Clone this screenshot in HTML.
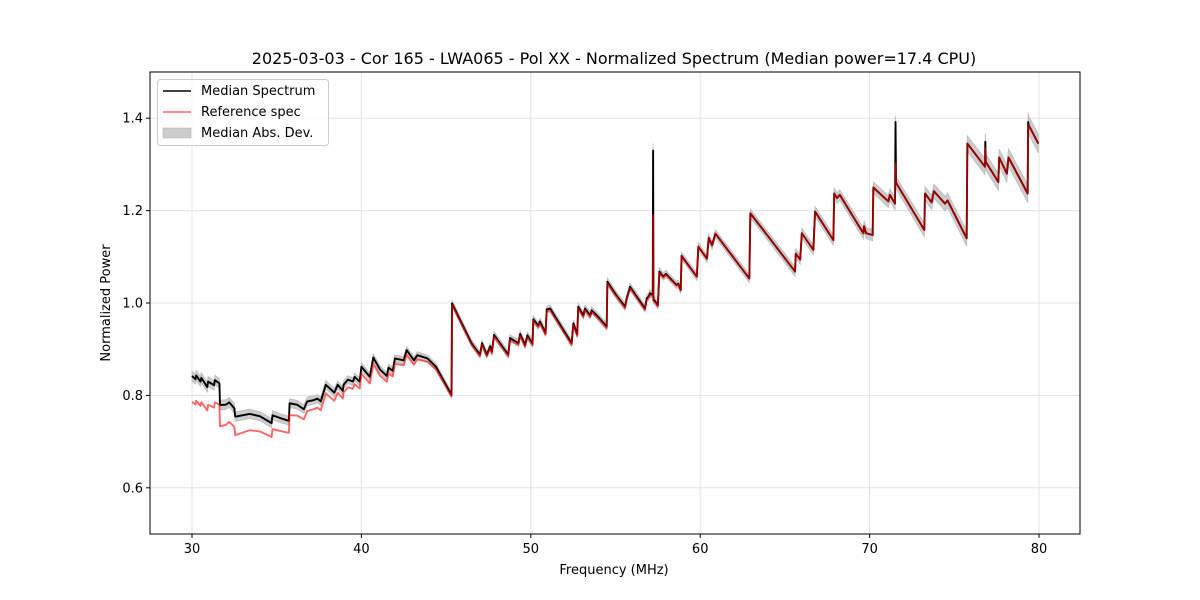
<!DOCTYPE html>
<html><head><meta charset="utf-8"><style>
body{margin:0;background:#fff;}
svg{display:block;font-family:"DejaVu Sans","Liberation Sans",sans-serif;}
</style></head><body>
<svg id="chart" width="1200" height="600" viewBox="0 0 1200 600">
<rect width="1200" height="600" fill="#fff"/>
<text x="614" y="64" font-size="16" text-anchor="middle">2025-03-03 - Cor 165 - LWA065 - Pol XX - Normalized Spectrum (Median power=17.4 CPU)</text>
<g id="grid"></g>
<g id="plot"></g>
<rect x="150" y="72" width="930" height="462" fill="none" stroke="#000" stroke-width="1"/>
<g id="ticks"></g>
<text x="614" y="574" font-size="13" text-anchor="middle">Frequency (MHz)</text>
<text x="110" y="303" font-size="13" text-anchor="middle" transform="rotate(-90 110 303)">Normalized Power</text>
<g>
<rect x="157.5" y="79.5" width="171" height="66" rx="3" fill="#fff" fill-opacity="0.8" stroke="#ccc"/>
<line x1="163" y1="91" x2="191" y2="91" stroke="#000" stroke-width="1.5"/>
<text x="201" y="95" font-size="13">Median Spectrum</text>
<line x1="163" y1="112" x2="191" y2="112" stroke="#ff6666" stroke-width="1.5"/>
<text x="201" y="116" font-size="13">Reference spec</text>
<rect x="163" y="128" width="28" height="10" fill="#ccc" stroke="#aaa" stroke-width="0.5"/>
<text x="201" y="137" font-size="13">Median Abs. Dev.</text>
</g>
</svg>
<script>
const xTicks=[30,40,50,60,70,80];
const yTicks=[0.6,0.8,1.0,1.2,1.4];
const yTickLabels=["0.6","0.8","1.0","1.2","1.4"];
const freqs=[30.0,30.2,30.25,30.5,30.55,30.9,30.95,31.3,31.35,31.62,31.65,32.0,32.2,32.5,32.55,33.4,34.0,34.7,34.75,35.2,35.72,35.76,36.2,36.6,36.8,37.2,37.4,37.6,37.9,38.4,38.6,38.9,38.95,39.2,39.5,39.6,39.9,40.0,40.5,40.7,41.1,41.5,41.6,41.85,41.98,42.5,42.67,43.1,43.3,43.9,44.4,45.32,45.35,46.5,47.0,47.12,47.4,47.6,47.7,47.83,48.67,48.77,49.27,49.37,49.66,49.8,50.1,50.15,50.44,50.54,50.87,50.94,51.14,52.41,52.51,52.74,52.8,53.1,53.2,53.5,53.6,54.0,54.48,54.52,54.97,55.56,55.66,55.86,56.74,56.84,56.94,57.04,57.2,57.22,57.24,57.3,57.5,57.59,57.82,57.98,58.6,58.7,58.85,58.9,59.8,59.89,60.4,60.5,60.7,60.9,62.9,62.96,64.1,65.6,65.64,65.9,66.0,66.68,66.78,67.86,67.91,68.08,68.24,69.63,69.67,69.8,70.18,70.22,71.1,71.2,71.5,71.53,71.56,71.6,73.23,73.27,73.66,73.8,74.45,74.6,75.73,75.77,76.81,76.83,76.86,76.88,77.6,77.65,78.1,78.2,79.33,79.36,79.39,79.96];
const median=[0.842,0.835,0.843,0.83,0.838,0.818,0.83,0.822,0.833,0.826,0.779,0.78,0.785,0.772,0.754,0.760,0.755,0.740,0.757,0.751,0.745,0.783,0.78,0.77,0.787,0.79,0.793,0.787,0.823,0.806,0.823,0.81,0.823,0.834,0.83,0.84,0.83,0.862,0.84,0.882,0.856,0.842,0.86,0.853,0.880,0.876,0.898,0.876,0.887,0.88,0.862,0.801,0.999,0.913,0.888,0.913,0.888,0.906,0.894,0.931,0.888,0.924,0.913,0.933,0.909,0.93,0.912,0.965,0.951,0.96,0.935,0.986,0.988,0.913,0.956,0.932,0.992,0.973,0.988,0.973,0.984,0.969,0.949,1.046,1.021,0.992,1.010,1.035,0.988,1.010,1.013,1.021,1.017,1.33,1.006,1.006,0.995,1.068,1.057,1.063,1.039,1.042,1.028,1.102,1.057,1.122,1.096,1.141,1.125,1.150,1.053,1.194,1.140,1.068,1.107,1.094,1.151,1.115,1.198,1.136,1.237,1.227,1.234,1.151,1.166,1.151,1.147,1.250,1.220,1.234,1.215,1.392,1.262,1.258,1.158,1.237,1.218,1.242,1.215,1.222,1.140,1.345,1.295,1.349,1.305,1.304,1.262,1.315,1.28,1.315,1.237,1.392,1.385,1.345];
const refOffsetFreqs=[30,31.5,33,34.7,35.7,37,40,43,45.3,50,57,60,80];
const refOffsets=[0.056,0.047,0.037,0.03,0.026,0.02,0.015,0.01,0.003,0.004,0.003,0.0,0.0];
const refSpikeFreqs=[57.22,71.53,76.83,79.36];
const refSpikeValues=[1.19,1.302,1.335,1.38];
const madFreqs=[30,45,60,70,80];
const madHalf=[0.011,0.007,0.008,0.012,0.02];

const X0=150,X1=1080,Y0=534,Y1=72,XMIN=27.52,XMAX=82.42,YMIN=0.5,YMAX=1.5;
const xs=f=>X0+(f-XMIN)/(XMAX-XMIN)*(X1-X0);
const ys=v=>Y0-(v-YMIN)/(YMAX-YMIN)*(Y0-Y1);
function interp(fa,va,f){if(f<=fa[0])return va[0];for(let i=1;i<fa.length;i++){if(f<=fa[i]){const t=(f-fa[i-1])/(fa[i]-fa[i-1]);return va[i-1]+t*(va[i]-va[i-1]);}}return va[va.length-1];}
const NS="http://www.w3.org/2000/svg";
function mk(tag,attrs,parent){const e=document.createElementNS(NS,tag);for(const k in attrs)e.setAttribute(k,attrs[k]);parent.appendChild(e);return e;}
const grid=document.getElementById('grid'),ticks=document.getElementById('ticks'),plot=document.getElementById('plot');
xTicks.forEach(t=>{
 const g=mk('line',{x1:xs(t),x2:xs(t),y1:Y1,y2:Y0,stroke:'#e3e3e3','stroke-width':1},grid);
 
 
 const tk=mk('line',{x1:xs(t),x2:xs(t),y1:Y0,y2:Y0+4,stroke:'#000'},ticks);
 
 
 const tl=mk('text',{x:xs(t),y:Y0+19,'font-size':13,'text-anchor':'middle'},ticks);tl.textContent=String(t);
 
 
});
yTicks.forEach((t,i)=>{
 const g=mk('line',{x1:X0,x2:X1,y1:ys(t),y2:ys(t),stroke:'#e3e3e3','stroke-width':1},grid);
 
 
 const tk=mk('line',{x1:X0-4,x2:X0,y1:ys(t),y2:ys(t),stroke:'#000'},ticks);
 
 
 const tl=mk('text',{x:X0-7,y:ys(t)+4.5,'font-size':13,'text-anchor':'end'},ticks);tl.textContent=yTickLabels[i];
 
 
});
let up=[],dn=[];
freqs.forEach((f,i)=>{const h=interp(madFreqs,madHalf,f)*(median[i]>1.3&&f>57&&f<57.3?2:1);up.push(xs(f)+','+ys(median[i]+h));dn.unshift(xs(f)+','+ys(median[i]-h));});
const band=mk('polygon',{points:up.concat(dn).join(' '),fill:'#cccccc',stroke:'#bbbbbb','stroke-width':0.8},plot);


const med=mk('polyline',{points:freqs.map((f,i)=>xs(f)+','+ys(median[i])).join(' '),fill:'none',stroke:'#000','stroke-width':1.9,'stroke-linejoin':'round'},plot);


const ref=freqs.map((f,i)=>{const k=refSpikeFreqs.findIndex(s=>Math.abs(s-f)<0.005);return k>=0?refSpikeValues[k]:median[i]-interp(refOffsetFreqs,refOffsets,f);});
const rl=mk('polyline',{points:freqs.map((f,i)=>xs(f)+','+ys(ref[i])).join(' '),fill:'none',stroke:'#ff0000','stroke-opacity':0.6,'stroke-width':1.9,'stroke-linejoin':'round'},plot);


</script>
</body></html>
